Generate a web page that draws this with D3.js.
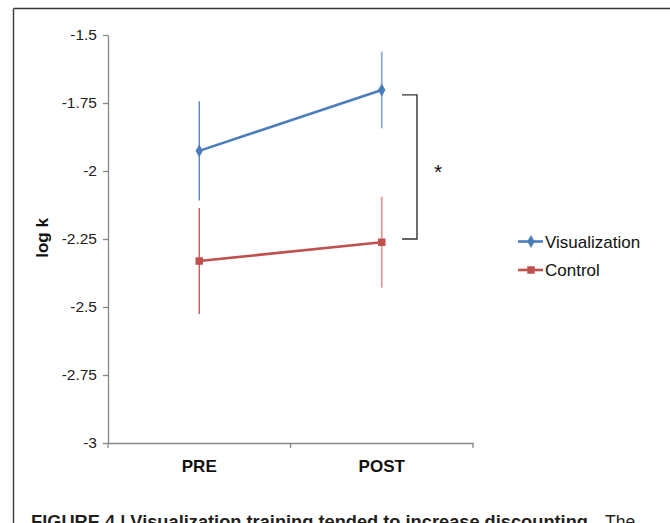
<!DOCTYPE html>
<html>
<head>
<meta charset="utf-8">
<script src="https://cdn.jsdelivr.net/npm/d3@7"></script>
<style>
  body { margin: 0; background: #fff; }
  svg { display: block; font-family: "Liberation Sans", Arial, sans-serif; }
</style>
</head>
<body>
<svg id="chart" width="670" height="523"></svg>
<script>
// data
let phases = ["PRE", "POST"]
let visMean = [-1.926, -1.702]
let visErr = [0.182, 0.141]
let ctrlMean = [-2.331, -2.262]
let ctrlErr = [0.195, 0.167]
let yTicks = [-1.5, -1.75, -2, -2.25, -2.5, -2.75, -3]
let seriesNames = ["Visualization", "Control"]

let svg = d3.select("#chart")
let width = 670, height = 523

// outer figure frame (runs off the right/bottom edge)
svg.append("line")
    .attr("x1", 13.5).attr("x2", width + 5)
    .attr("y1", 8.5).attr("y2", 8.5)
    .style("stroke", "#3a3a3a").style("stroke-width", 1.6)
svg.append("line")
    .attr("x1", 13.5).attr("x2", 13.5)
    .attr("y1", 8.5).attr("y2", height + 5)
    .style("stroke", "#3a3a3a").style("stroke-width", 1.4)

let x = d3.scaleBand()
    .domain(phases)
    .range([108, 473])

let y = d3.scaleLinear()
    .domain([-3, -1.5])
    .range([443, 35])

// y axis
let yAxis = svg.append("g")
    .attr("transform", "translate(108,0)")
    .call(d3.axisLeft(y).tickValues(yTicks).tickSize(5).tickSizeOuter(0).tickPadding(6)
        .tickFormat(d => String(d)))
yAxis.select(".domain").style("stroke", "#868686").style("stroke-width", 1.3)
yAxis.selectAll(".tick line").style("stroke", "#868686").style("stroke-width", 1.3)
yAxis.selectAll("text").style("font-size", "15.5px").style("fill", "#222")

// x axis (labels centred, tick marks between categories like the original)
let xAxis = svg.append("g")
    .attr("transform", `translate(0,${y(-3)})`)
    .call(d3.axisBottom(x).tickSize(0).tickSizeOuter(0).tickPadding(17))
xAxis.select(".domain").style("stroke", "#868686").style("stroke-width", 1.3)
xAxis.selectAll("text").style("font-size", "17px").style("font-weight", "bold").style("fill", "#111")

let edges = phases.map(d => x(d)).concat([x(phases[phases.length - 1]) + x.bandwidth()])
svg.append("g").selectAll("line")
    .data(edges)
    .enter()
    .append("line")
      .attr("x1", d => d).attr("x2", d => d)
      .attr("y1", y(-3)).attr("y2", y(-3) + 5)
      .style("stroke", "#868686").style("stroke-width", 1.3)

// y axis title
svg.append("text")
    .attr("transform", "translate(48,238) rotate(-90)")
    .attr("text-anchor", "middle")
    .style("font-size", "17px")
    .style("font-weight", "bold")
    .style("fill", "#111")
    .text("log k")

let cx = d => x(d) + x.bandwidth() / 2

let series = [
  { name: seriesNames[0], mean: visMean, err: visErr, color: "#4a7ebb", barColors: ["#4a7ebb", "#8eaedb"], shape: d3.symbolDiamond },
  { name: seriesNames[1], mean: ctrlMean, err: ctrlErr, color: "#c0504d", barColors: ["#c0504d", "#e09a98"], shape: d3.symbolSquare }
]

series.forEach(function (s) {
  let pts = phases.map((p, i) => ({ p: p, m: s.mean[i], e: s.err[i], i: i }))

  // error bars
  svg.append("g").selectAll("line")
      .data(pts)
      .enter()
      .append("line")
        .attr("x1", d => cx(d.p)).attr("x2", d => cx(d.p))
        .attr("y1", d => y(d.m + d.e)).attr("y2", d => y(d.m - d.e))
        .style("stroke", d => s.barColors[d.i])
        .style("stroke-width", d => d.i == 0 ? 1.3 : 1.8)

  // line
  svg.append("path")
      .datum(pts)
      .attr("d", d3.line().x(d => cx(d.p)).y(d => y(d.m)))
      .style("fill", "none")
      .style("stroke", s.color)
      .style("stroke-width", 2.6)

  // markers
  svg.append("g").selectAll("path")
      .data(pts)
      .enter()
      .append("path")
        .attr("transform", d => `translate(${cx(d.p)},${y(d.m)})`)
        .attr("d", d3.symbol().type(s.shape).size(s.shape == d3.symbolSquare ? 56 : 48))
        .style("fill", s.color)
})

// significance bracket between the POST values
let bTop = y(-1.72), bBottom = y(-2.25)
svg.append("path")
    .attr("d", `M402,${bTop}H417V${bBottom}H402`)
    .style("fill", "none")
    .style("stroke", "#333")
    .style("stroke-width", 1.4)
svg.append("text")
    .attr("x", 438)
    .attr("y", (bTop + bBottom) / 2 + 12)
    .attr("text-anchor", "middle")
    .style("font-size", "21px")
    .style("fill", "#111")
    .text("*")

// legend
let legend = svg.append("g")
    .selectAll("g")
    .data(series)
    .enter()
    .append("g")
      .attr("transform", (d, i) => `translate(518,${241.5 + i * 28.5})`)

legend.append("line")
    .attr("x1", 0).attr("x2", 25)
    .style("stroke", d => d.color)
    .style("stroke-width", 2.6)
legend.append("path")
    .attr("transform", "translate(13,0)")
    .attr("d", d => d3.symbol().type(d.shape).size(d.shape == d3.symbolSquare ? 56 : 48)())
    .style("fill", d => d.color)
legend.append("text")
    .attr("x", 27)
    .attr("y", 6)
    .style("font-size", "17px")
    .style("fill", "#111")
    .text(d => d.name)

// caption (cut off by the bottom of the frame, as in the source)
let caption = svg.append("text")
    .attr("x", 31)
    .attr("y", 528)
    .style("font-size", "17.5px")
    .style("fill", "#231f20")
caption.append("tspan")
    .style("font-weight", "bold")
    .attr("textLength", 562)
    .attr("lengthAdjust", "spacingAndGlyphs")
    .text("FIGURE 4 | Visualization training tended to increase discounting.")
caption.append("tspan")
    .attr("x", 605)
    .text("The")
</script>
</body>
</html>
